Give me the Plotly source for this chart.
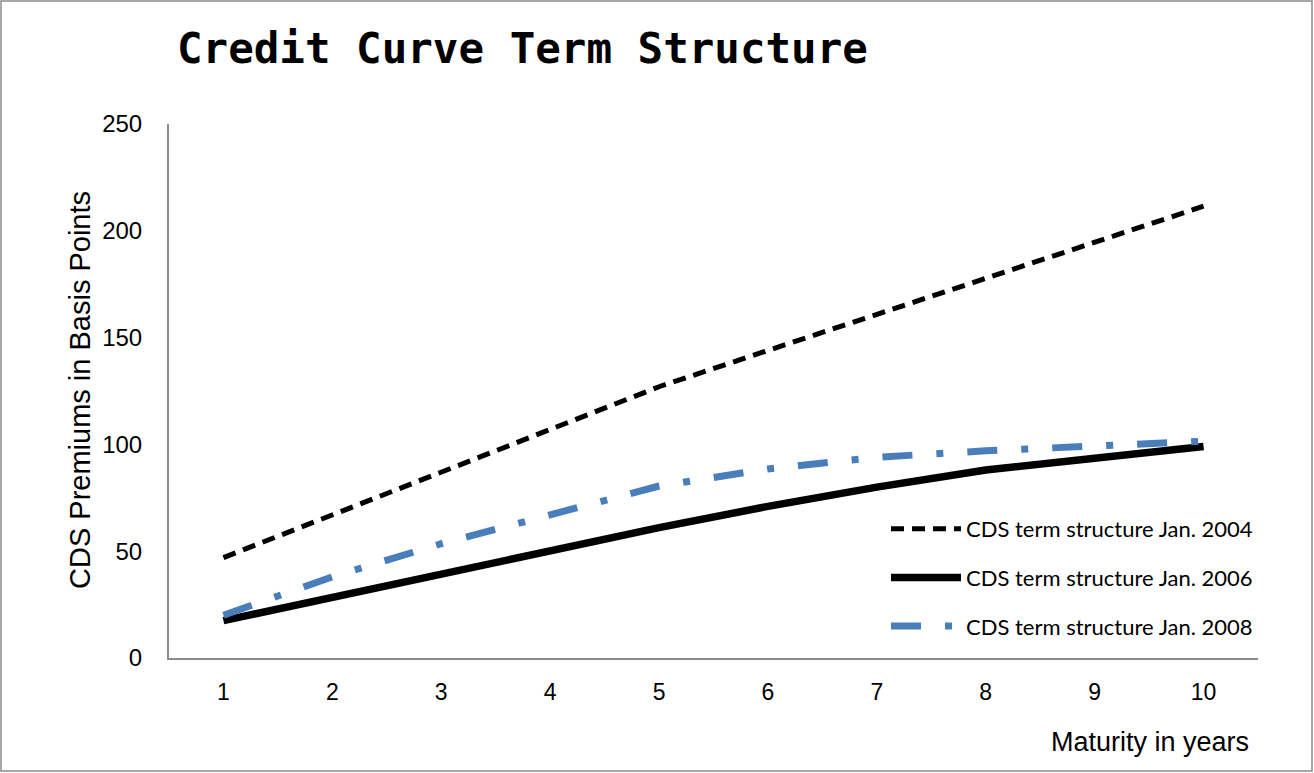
import plotly.graph_objects as go

maturity = [1, 2, 3, 4, 5, 6, 7, 8, 9, 10]
cds_2004 = [47, 67, 86.5, 106.5, 127, 144, 161, 178, 195, 211.5]
cds_2006 = [17.5, 28.5, 39.5, 50, 61, 71, 80, 88, 93.5, 99]
cds_2008 = [20, 38, 53.5, 67, 80.5, 88.5, 94, 97, 99.5, 101.5]
y_ticks = [0, 50, 100, 150, 200, 250]

names = ["CDS term structure Jan. 2004", "CDS term structure Jan. 2006", "CDS term structure Jan. 2008"]

W, H = 1314, 773
L, R, T, B = 169, 56, 124, 115
pw, ph = W - L - R, H - T - B

def px(x):
    return (x - L) / pw

def py(y):
    return (H - B - y) / ph

fig = go.Figure()
fig.add_trace(go.Scatter(x=maturity, y=cds_2004, mode="lines", name=names[0], legendgroup="a",
                         line=dict(color="black", width=5, dash="13px,8px")))
fig.add_trace(go.Scatter(x=maturity, y=cds_2006, mode="lines", name=names[1], legendgroup="b",
                         line=dict(color="black", width=7.5)))
fig.add_trace(go.Scatter(x=maturity, y=cds_2008, mode="lines", name=names[2], legendgroup="c",
                         line=dict(color="#4A7EBB", width=7, dash="30px,24px,7px,24px")))

fig.update_layout(
    width=W, height=H,
    margin=dict(l=L, r=R, t=T, b=B, autoexpand=False),
    paper_bgcolor="white", plot_bgcolor="white",
    showlegend=True,
    legend=dict(x=px(886), y=py(508), xanchor="left", yanchor="top",
                font=dict(family="Lato, Carlito, sans-serif", size=22, color="black"),
                bgcolor="rgba(0,0,0,0)", tracegroupgap=17, itemwidth=70),
    xaxis=dict(range=[0.5, 10.5], tickvals=maturity, ticktext=[str(m) for m in maturity],
               showgrid=False, zeroline=False, showline=True, linecolor="#8c8c8c", linewidth=2,
               ticks="outside", ticklen=12, tickcolor="rgba(0,0,0,0)",
               tickfont=dict(family="Liberation Sans Narrow, Arial Narrow, Liberation Sans", size=23, color="black")),
    yaxis=dict(range=[0, 250], tickvals=y_ticks, showgrid=False, zeroline=False,
               showline=True, linecolor="#8c8c8c", linewidth=2,
               ticks="outside", ticklen=20, tickcolor="rgba(0,0,0,0)",
               tickfont=dict(family="Liberation Sans, Arial", size=24, color="black")),
    annotations=[
        dict(text="<b>Credit Curve Term Structure</b>", xref="paper", yref="paper", x=px(175), y=py(48),
             xanchor="left", yanchor="middle", showarrow=False,
             font=dict(family="DejaVu Sans Mono", size=42.5, color="black")),
        dict(text="CDS Premiums in Basis Points", xref="paper", yref="paper", x=px(80), y=py(390),
             xanchor="center", yanchor="middle", showarrow=False, textangle=-90,
             font=dict(family="Liberation Sans, Arial", size=29, color="black")),
        dict(text="Maturity in years", xref="paper", yref="paper", x=px(1251), y=py(742),
             xanchor="right", yanchor="middle", showarrow=False,
             font=dict(family="Liberation Sans Narrow, Arial Narrow, Liberation Sans", size=27, color="black")),
    ],
    shapes=[dict(type="rect", xref="paper", yref="paper", x0=px(1), x1=px(1312), y0=py(771), y1=py(1),
                 line=dict(color="#8c8c8c", width=1.5), fillcolor="rgba(0,0,0,0)", layer="below")],
)

fig.write_html("out.html", config={"displayModeBar": False},
               post_script="document.body.style.margin='0';")
